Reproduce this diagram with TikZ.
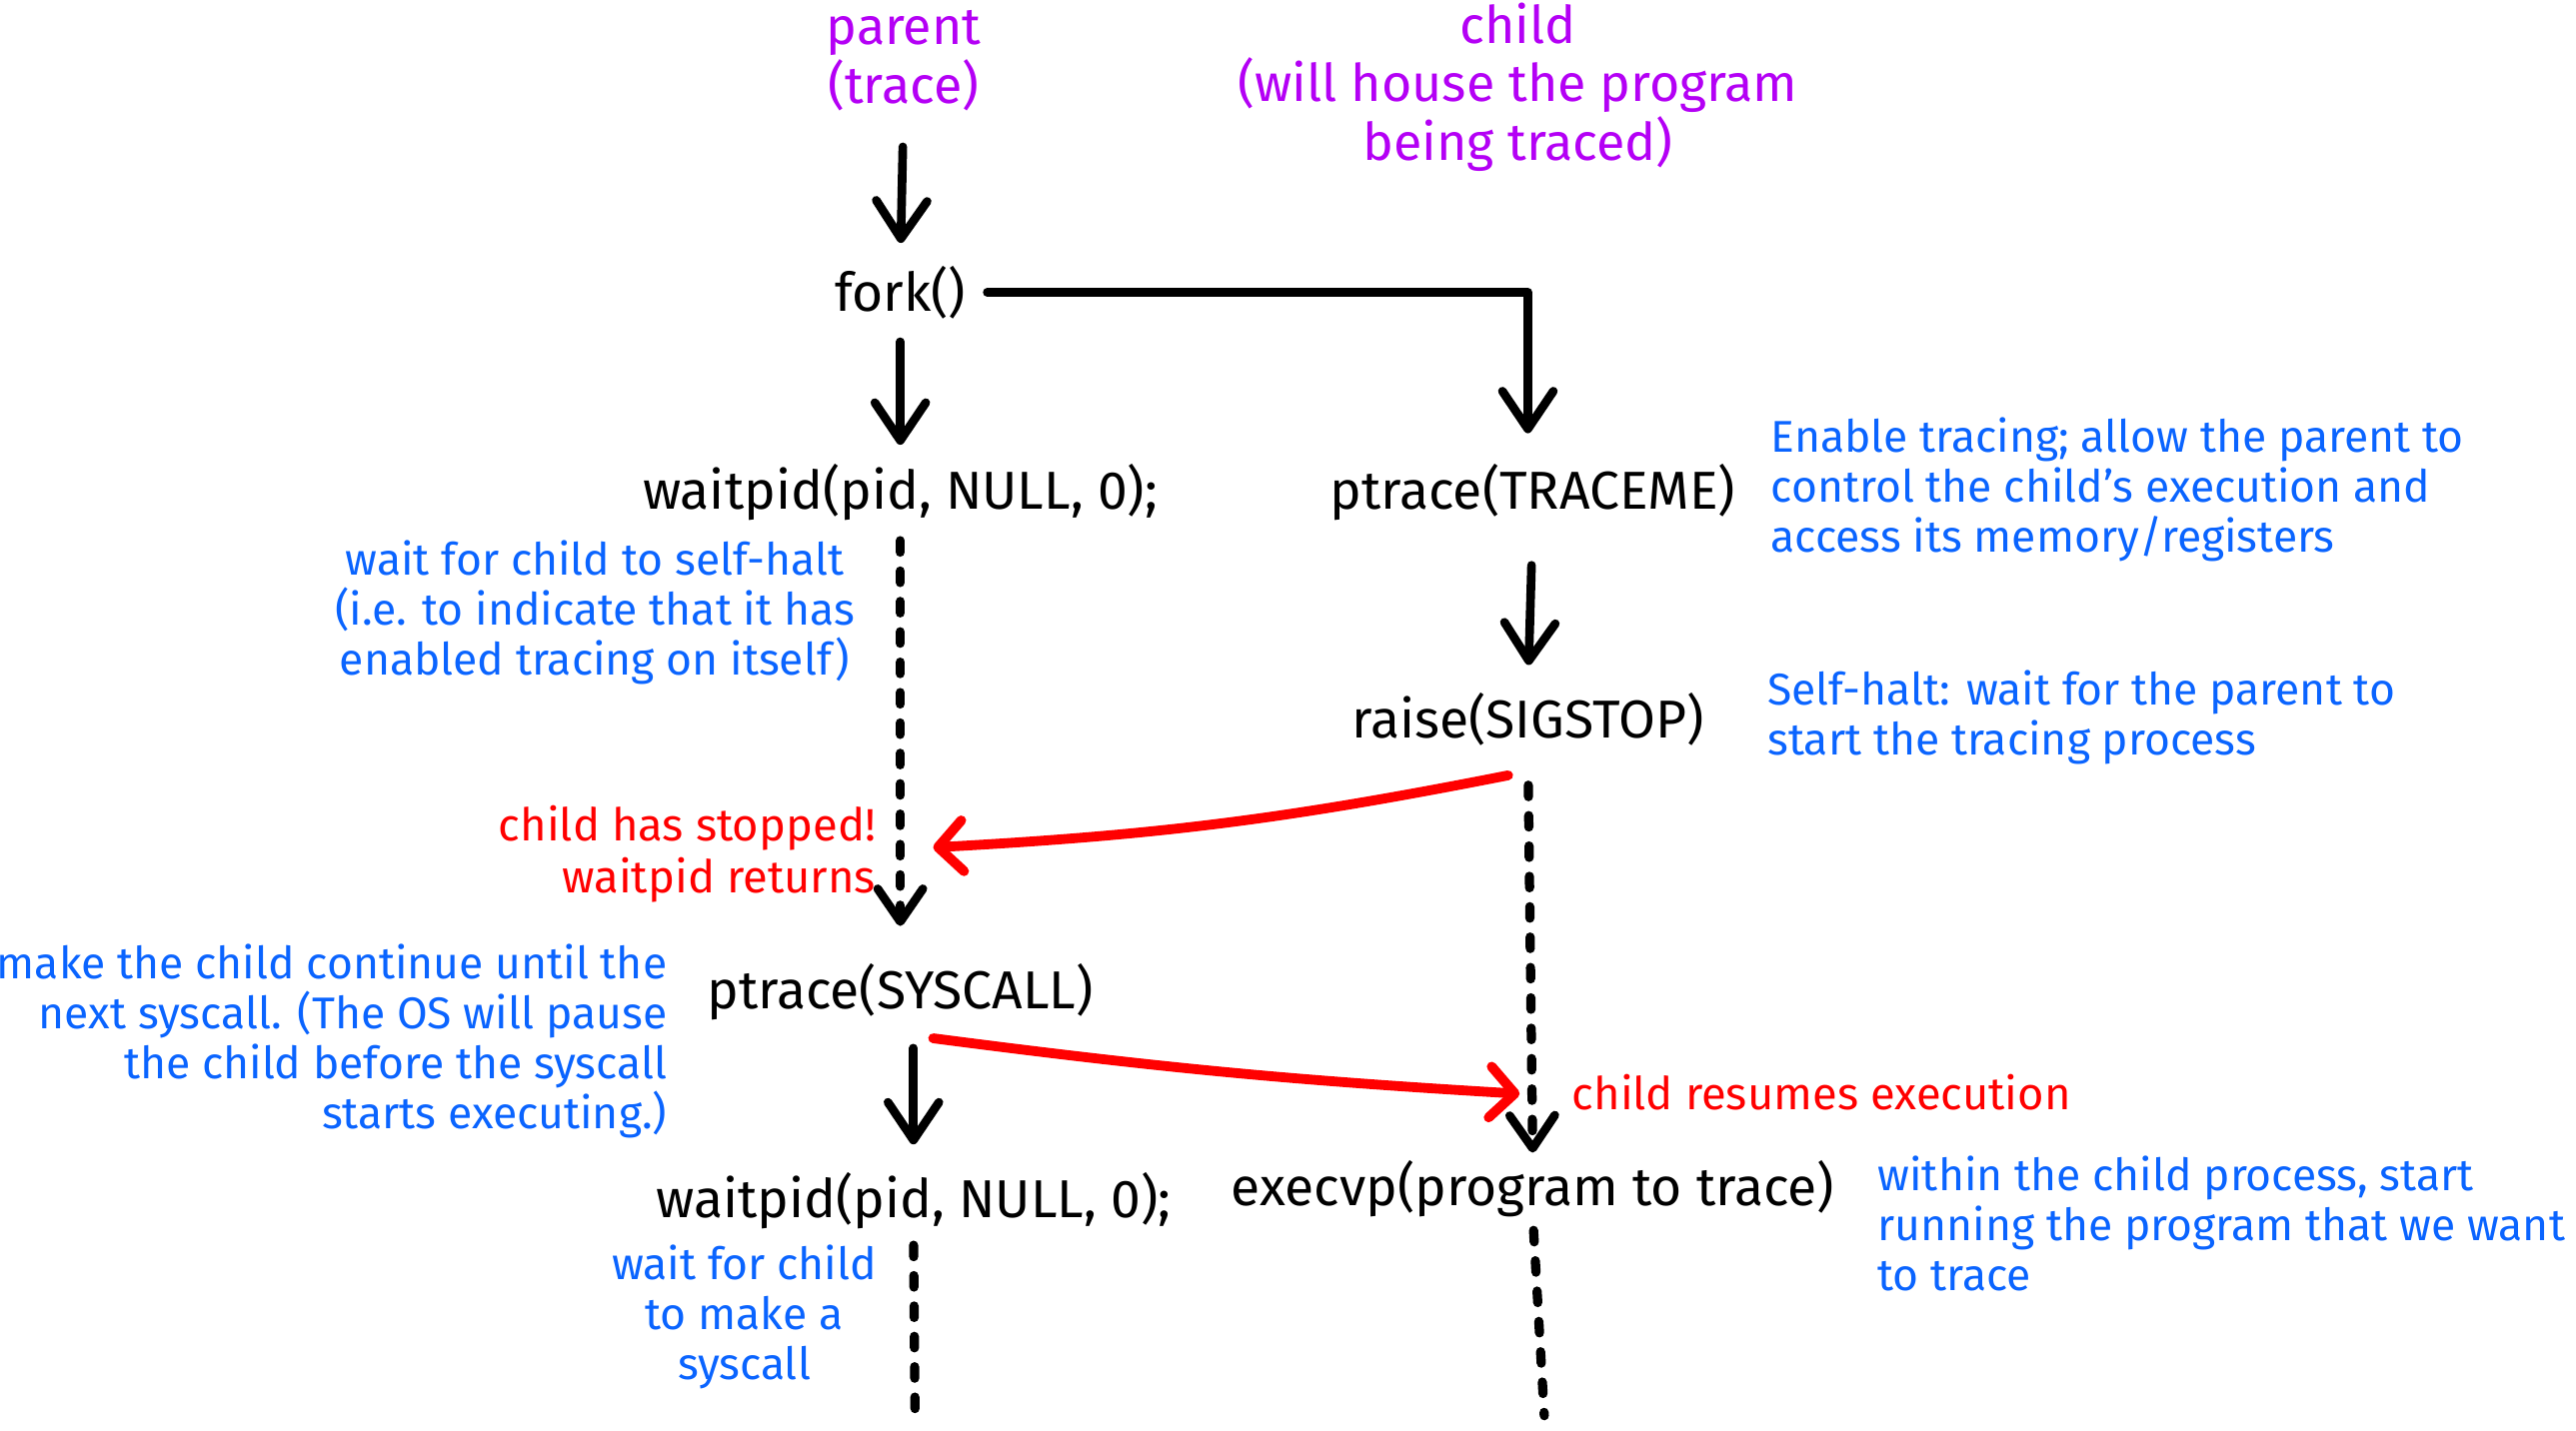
\documentclass[tikz,border=0pt]{standalone}
\usepackage{fontspec}
\setmainfont{Fira Sans}
\usetikzlibrary{arrows.meta,calc}
\definecolor{noteblue}{HTML}{0A64FF}
\definecolor{alertred}{HTML}{FF0000}
\definecolor{headpurple}{HTML}{B400F5}
\begin{document}
\begin{tikzpicture}[x=0.02cm,y=-0.02cm,
  every node/.style={inner sep=0pt, outer sep=0pt},
  calltxt/.style={font=\fontsize{18.5}{22}\selectfont, text=black},
  headtxt/.style={font=\fontsize{18}{20.2}\selectfont, text=headpurple, align=center},
  notetxt/.style={font=\fontsize{15.4}{17.3}\selectfont, text=noteblue},
  alerttxt/.style={font=\fontsize{15.7}{18.2}\selectfont, text=alertred},
  flowarrow/.style={draw=black, line width=3pt, line cap=round, line join=round,
    -{Straight Barb[length=0.46cm,width=0.62cm,line width=3pt,round]}},
  waitline/.style={draw=black, line width=3.2pt, line cap=round, dash pattern=on 0.14cm off 0.23cm},
  waitarrow/.style={waitline, -{Straight Barb[length=0.4cm,width=0.55cm,line width=3pt,round]}},
  signalarrow/.style={draw=alertred, line width=3.4pt, line cap=round, line join=round,
    -{Straight Barb[length=0.3cm,width=0.62cm,line width=3.4pt,round]}}
]
\useasboundingbox (0,0) rectangle (1568,871);

% headings
\node[headtxt] (parent) at (550,37) {parent\\(trace)};
\node[headtxt] (child) at (924,53) {child\\(will house the program\\being traced)};

% calls
\node[calltxt] (fork) at (548,178) {fork()};
\node[calltxt] (wp1) at (548,300) {waitpid(pid, NULL, 0);};
\node[calltxt] (tme) at (933,300) {ptrace(TRACEME)};
\node[calltxt] (raise) at (930,438) {raise(SIGSTOP)};
\node[calltxt] (sys) at (548,604) {ptrace(SYSCALL)};
\node[calltxt] (wp2) at (556,731) {waitpid(pid, NULL, 0);};
\node[calltxt] (exec) at (933,724) {execvp(program to trace)};

% notes
\node[notetxt, anchor=west, align=left] (n1) at (1078,298) {Enable tracing; allow the parent to\\control the child's execution and\\access its memory/registers};
\node[notetxt, anchor=west, align=left] (n2) at (1076,437) {Self-halt: wait for the parent to\\start the tracing process};
\node[notetxt, align=center] (n3) at (362,373) {wait for child to self-halt\\(i.e. to indicate that it has\\enabled tracing on itself)};
\node[alerttxt, anchor=east, align=right] (r1) at (533,520) {child has stopped!\\waitpid returns};
\node[notetxt, anchor=east, align=right] (n4) at (406,634) {make the child continue until the\\next syscall. (The OS will pause\\the child before the syscall\\starts executing.)};
\node[alerttxt, anchor=west] (r2) at (957,665) {child resumes execution};
\node[notetxt, anchor=west, align=left] (n5) at (1143,745) {within the child process, start\\running the program that we want\\to trace};
\node[notetxt, align=center] (n6) at (453,802) {wait for child\\to make a\\syscall};

% free ends
\coordinate (stopA) at (568,516);
\coordinate (resumeA) at (925,666);
\coordinate (end1) at (557,866);
\coordinate (end2) at (940,862);

% solid flow arrows
\draw[flowarrow, shorten <=0.44cm, shorten >=0.28cm] (parent.south) -- (fork.north);
\draw[flowarrow, shorten <=0.28cm, shorten >=0.24cm] (fork.south) -- (wp1.north);
\draw[flowarrow, shorten >=0.38cm] ([xshift=0.26cm]fork.east) -| ([xshift=-0.06cm]tme.north);
\draw[flowarrow, shorten <=0.54cm, shorten >=0.34cm] (tme.south) -- (raise.north);
\draw[flowarrow, shorten <=0.34cm, shorten >=0.34cm] (sys.south -| wp2.north) -- (wp2.north);

% waiting lines
\draw[waitarrow, shorten <=0.24cm, shorten >=0.46cm] (wp1.south) -- (sys.north);
\draw[waitarrow, shorten <=0.48cm, shorten >=0.1cm] (raise.south) -- (exec.north);
\draw[waitline, shorten <=0.2cm] (wp2.south) -- (end1);
\draw[waitline, shorten <=0.16cm] (exec.south) -- (end2);

% signals
\draw[signalarrow] ($(raise.south)+(-12,18)$) to[bend left=4] (stopA);
\draw[signalarrow] ($(sys.south)+(20,11)$) to[bend right=2] (resumeA);
\end{tikzpicture}
\end{document}
